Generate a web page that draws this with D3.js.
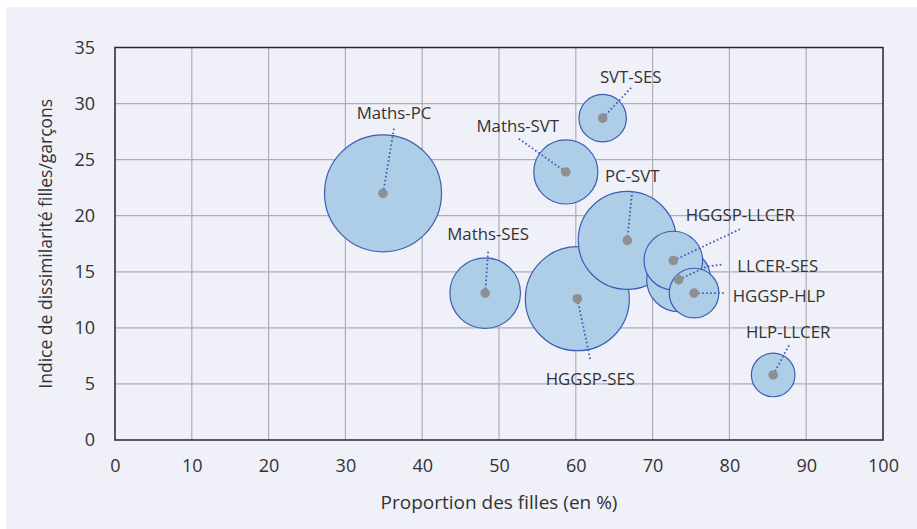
<!DOCTYPE html>
<html lang="fr">
<head>
<meta charset="utf-8">
<script src="https://cdn.jsdelivr.net/npm/d3@7"></script>
<style>
  html, body { margin: 0; padding: 0; background: #fff; }
  svg { display: block; font-family: 'Open Sans', 'DejaVu Sans', sans-serif; }
</style>
</head>
<body>
<div id="chart"></div>
<script>
const width = 917;
const height = 529;

// Données
const combos = ['Maths-PC', 'Maths-SVT', 'SVT-SES', 'PC-SVT', 'Maths-SES',
  'HGGSP-SES', 'HGGSP-LLCER', 'LLCER-SES', 'HGGSP-HLP', 'HLP-LLCER'];
const partFilles = [34.9, 58.7, 63.5, 66.7, 48.2, 60.2, 72.7, 73.4, 75.4, 85.7];
const dissimilarite = [22.0, 23.9, 28.7, 17.8, 13.1, 12.6, 16.0, 14.3, 13.1, 5.8];
const effectifs = [100, 30, 16.4, 70.2, 36.4, 79, 25.1, 30, 18, 13.9];

const xTicks = [0, 10, 20, 30, 40, 50, 60, 70, 80, 90, 100];
const yTicks = [0, 5, 10, 15, 20, 25, 30, 35];

// label placement (px offsets from the bubble centre)
const labelPos = {
  'Maths-PC': { text: [11, -80], line: [[11, -65]] },
  'Maths-SVT': { text: [-48, -46], line: [[-48, -34]] },
  'SVT-SES': { text: [28, -41], line: [[29, -31]] },
  'PC-SVT': { text: [5, -64], line: [[5, -50]] },
  'Maths-SES': { text: [3, -59], line: [[3, -42]] },
  'HGGSP-SES': { text: [13, 80], line: [[13, 61]] },
  'HGGSP-LLCER': { text: [67, -46], line: [[68, -32]] },
  'LLCER-SES': { text: [99, -14], line: [[28, -13], [43, -15]] },
  'HGGSP-HLP': { text: [85, 3], line: [[30, 0]] },
  'HLP-LLCER': { text: [15, -43], line: [[16, -30]] },
};

const margin = { top: 47.5, right: 34, bottom: 89, left: 115 };
const blue = '#3d5db5';

const svg = d3.select('#chart').append('svg')
  .attr('width', width)
  .attr('height', height);

svg.append('rect')
  .attr('x', 6).attr('y', 7)
  .attr('width', width - 6).attr('height', height - 7)
  .attr('fill', '#eff0f8');

const x = d3.scaleLinear().domain([0, 100]).range([margin.left, width - margin.right]);
const y = d3.scaleLinear().domain([0, 35]).range([height - margin.bottom, margin.top]);
const r = d3.scaleSqrt().domain([0, d3.max(effectifs)]).range([0, 58.5]);

// grid
svg.append('g')
  .selectAll('line')
  .data(xTicks.slice(1, -1))
  .join('line')
  .attr('x1', (d) => x(d)).attr('x2', (d) => x(d))
  .attr('y1', y(0)).attr('y2', y(35))
  .attr('stroke', '#aeaeb4').attr('stroke-width', 1.2);

svg.append('g')
  .selectAll('line')
  .data(yTicks.slice(1, -1))
  .join('line')
  .attr('x1', x(0)).attr('x2', x(100))
  .attr('y1', (d) => y(d)).attr('y2', (d) => y(d))
  .attr('stroke', '#aeaeb4').attr('stroke-width', 1.2);

// frame
svg.append('rect')
  .attr('x', x(0)).attr('y', y(35))
  .attr('width', x(100) - x(0)).attr('height', y(0) - y(35))
  .attr('fill', 'none')
  .attr('stroke', '#26262b').attr('stroke-width', 1.5);

// axes (labels only)
const xAxis = svg.append('g')
  .attr('transform', `translate(0,${y(0)})`)
  .call(d3.axisBottom(x).tickValues(xTicks).tickSize(0).tickPadding(19));
const yAxis = svg.append('g')
  .attr('transform', `translate(${x(0)},0)`)
  .call(d3.axisLeft(y).tickValues(yTicks).tickSize(0).tickPadding(20));
[xAxis, yAxis].forEach((a) => {
  a.select('.domain').remove();
  a.selectAll('text')
    .attr('font-family', "'Open Sans', sans-serif")
    .attr('font-size', 18)
    .attr('fill', '#333');
});

svg.append('text')
  .attr('x', x(50)).attr('y', 509)
  .attr('text-anchor', 'middle')
  .attr('font-size', 19).attr('fill', '#333')
  .text('Proportion des filles (en %)');

svg.append('text')
  .attr('transform', `translate(52,${(y(0) + y(35)) / 2}) rotate(-90)`)
  .attr('text-anchor', 'middle')
  .attr('font-size', 17.5).attr('fill', '#333')
  .text('Indice de dissimilarité filles/garçons');

// bubbles, biggest first
const rows = combos.map((name, i) => ({
  name,
  px: partFilles[i],
  dv: dissimilarite[i],
  size: effectifs[i],
}));
const sorted = rows.slice().sort((a, b) => b.size - a.size);

svg.append('g')
  .selectAll('circle')
  .data(sorted)
  .join('circle')
  .attr('cx', (d) => x(d.px))
  .attr('cy', (d) => y(d.dv))
  .attr('r', (d) => r(d.size))
  .attr('fill', '#aecde7')
  .attr('stroke', blue)
  .attr('stroke-width', 1.2);

// leader lines
svg.append('g')
  .selectAll('path')
  .data(rows)
  .join('path')
  .attr('d', (d) => {
    const cx = x(d.px), cy = y(d.dv);
    const pts = [[cx, cy]].concat(labelPos[d.name].line.map(([dx, dy]) => [cx + dx, cy + dy]));
    return d3.line()(pts);
  })
  .attr('fill', 'none')
  .attr('stroke', blue)
  .attr('stroke-width', 1.8)
  .attr('stroke-dasharray', '1.6,2.4');

// centre markers
svg.append('g')
  .selectAll('circle')
  .data(rows)
  .join('circle')
  .attr('cx', (d) => x(d.px))
  .attr('cy', (d) => y(d.dv))
  .attr('r', 4.8)
  .attr('fill', '#8f8f91');

// labels
svg.append('g')
  .selectAll('text')
  .data(rows)
  .join('text')
  .attr('x', (d) => x(d.px) + labelPos[d.name].text[0])
  .attr('y', (d) => y(d.dv) + labelPos[d.name].text[1])
  .attr('dy', '0.36em')
  .attr('text-anchor', 'middle')
  .attr('font-size', 16.8)
  .attr('fill', '#333')
  .text((d) => d.name);
</script>
</body>
</html>
